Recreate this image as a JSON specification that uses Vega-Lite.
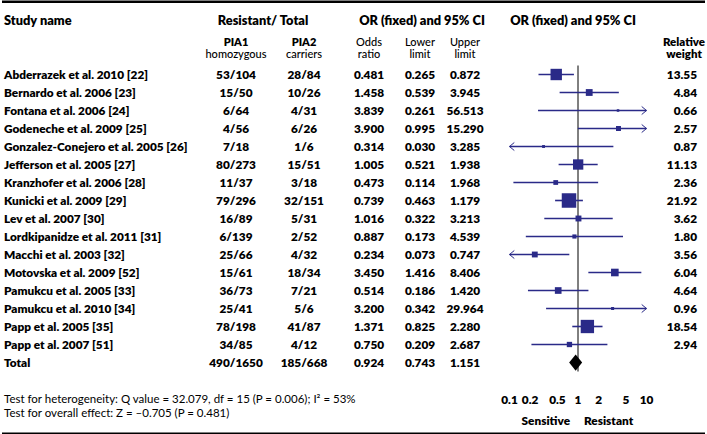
{
  "$schema": "https://vega.github.io/schema/vega-lite/v6.json",
  "width": 707,
  "height": 434,
  "autosize": {"type": "fit", "contains": "padding"},
  "padding": 0,
  "background": "white",
  "config": {
    "view": {"stroke": null},
    "font": "Lato",
    "text": {"font": "Lato", "fontSize": 11.8, "fontWeight": 800, "color": "#000"}
  },
  "datasets": {
    "studies": [
      {"study": "Abderrazek et al. 2010 [22]", "pia1": "53/104", "pia2": "28/84", "or": 0.481, "lo": 0.265, "hi": 0.872, "w": 13.55},
      {"study": "Bernardo et al. 2006 [23]", "pia1": "15/50", "pia2": "10/26", "or": 1.458, "lo": 0.539, "hi": 3.945, "w": 4.84},
      {"study": "Fontana et al. 2006 [24]", "pia1": "6/64", "pia2": "4/31", "or": 3.839, "lo": 0.261, "hi": 56.513, "w": 0.66},
      {"study": "Godeneche et al. 2009 [25]", "pia1": "4/56", "pia2": "6/26", "or": 3.9, "lo": 0.995, "hi": 15.29, "w": 2.57},
      {"study": "Gonzalez-Conejero et al. 2005 [26]", "pia1": "7/18", "pia2": "1/6", "or": 0.314, "lo": 0.03, "hi": 3.285, "w": 0.87},
      {"study": "Jefferson et al. 2005 [27]", "pia1": "80/273", "pia2": "15/51", "or": 1.005, "lo": 0.521, "hi": 1.938, "w": 11.13},
      {"study": "Kranzhofer et al. 2006 [28]", "pia1": "11/37", "pia2": "3/18", "or": 0.473, "lo": 0.114, "hi": 1.968, "w": 2.36},
      {"study": "Kunicki et al. 2009 [29]", "pia1": "79/296", "pia2": "32/151", "or": 0.739, "lo": 0.463, "hi": 1.179, "w": 21.92},
      {"study": "Lev et al. 2007 [30]", "pia1": "16/89", "pia2": "5/31", "or": 1.016, "lo": 0.322, "hi": 3.213, "w": 3.62},
      {"study": "Lordkipanidze et al. 2011 [31]", "pia1": "6/139", "pia2": "2/52", "or": 0.887, "lo": 0.173, "hi": 4.539, "w": 1.8},
      {"study": "Macchi et al. 2003  [32]", "pia1": "25/66", "pia2": "4/32", "or": 0.234, "lo": 0.073, "hi": 0.747, "w": 3.56},
      {"study": "Motovska et al. 2009 [52]", "pia1": "15/61", "pia2": "18/34", "or": 3.45, "lo": 1.416, "hi": 8.406, "w": 6.04},
      {"study": "Pamukcu et al. 2005 [33]", "pia1": "36/73", "pia2": "7/21", "or": 0.514, "lo": 0.186, "hi": 1.42, "w": 4.64},
      {"study": "Pamukcu et al. 2010 [34]", "pia1": "25/41", "pia2": "5/6", "or": 3.2, "lo": 0.342, "hi": 29.964, "w": 0.96},
      {"study": "Papp et al. 2005  [35]", "pia1": "78/198", "pia2": "41/87", "or": 1.371, "lo": 0.825, "hi": 2.28, "w": 18.54},
      {"study": "Papp et al. 2007 [51]", "pia1": "34/85", "pia2": "4/12", "or": 0.75, "lo": 0.209, "hi": 2.687, "w": 2.94},
      {"study": "Total", "pia1": "490/1650", "pia2": "185/668", "or": 0.924, "lo": 0.743, "hi": 1.151, "w": null}
    ],
    "labels": [
      {"study": "hdr", "id": "h_name", "label": "Study name"},
      {"study": "hdr", "id": "h_rt", "label": "Resistant/ Total"},
      {"study": "hdr", "id": "h_or1", "label": "OR (fixed) and 95% CI"},
      {"study": "hdr", "id": "h_or2", "label": "OR (fixed) and 95% CI"},
      {"study": "sub1", "id": "pia1_a", "label": "PIA1"},
      {"study": "sub2", "id": "pia1_b", "label": "homozygous"},
      {"study": "sub1", "id": "pia2_a", "label": "PIA2"},
      {"study": "sub2", "id": "pia2_b", "label": "carriers"},
      {"study": "sub1", "id": "or_a", "label": "Odds"},
      {"study": "sub2", "id": "or_b", "label": "ratio"},
      {"study": "sub1", "id": "lo_a", "label": "Lower"},
      {"study": "sub2", "id": "lo_b", "label": "limit"},
      {"study": "sub1", "id": "hi_a", "label": "Upper"},
      {"study": "sub2", "id": "hi_b", "label": "limit"},
      {"study": "sub1", "id": "w_a", "label": "Relative"},
      {"study": "sub2", "id": "w_b", "label": "weight"},
      {"study": "foot1", "id": "f1", "label": "Test for heterogeneity: Q value = 32.079, df = 15 (P = 0.006); I² = 53%"},
      {"study": "foot2", "id": "f2", "label": "Test for overall effect: Z = –0.705 (P = 0.481)"},
      {"study": "foot2", "id": "sens", "label": "Sensitive"},
      {"study": "foot2", "id": "res", "label": "Resistant"}
    ],
    "ticks": [
      {"study": "foot1", "t": 0.1, "lab": "0.1"}, {"study": "foot1", "t": 0.2, "lab": "0.2"}, {"study": "foot1", "t": 0.5, "lab": "0.5"},
      {"study": "foot1", "t": 1, "lab": "1"}, {"study": "foot1", "t": 2, "lab": "2"}, {"study": "foot1", "t": 5, "lab": "5"}, {"study": "foot1", "t": 10, "lab": "10"}
    ],
    "frame": [{"study": "top"}, {"study": "bottom"}]
  },
  "encoding": {
    "y": {"field": "study", "type": "nominal", "axis": null,
          "scale": {"type": "point", "padding": 0, "range": [1.5, 433.5],
                    "domain": ["top","hdr","sub1","sub2","Abderrazek et al. 2010 [22]","Bernardo et al. 2006 [23]","Fontana et al. 2006 [24]","Godeneche et al. 2009 [25]","Gonzalez-Conejero et al. 2005 [26]","Jefferson et al. 2005 [27]","Kranzhofer et al. 2006 [28]","Kunicki et al. 2009 [29]","Lev et al. 2007 [30]","Lordkipanidze et al. 2011 [31]","Macchi et al. 2003  [32]","Motovska et al. 2009 [52]","Pamukcu et al. 2005 [33]","Pamukcu et al. 2010 [34]","Papp et al. 2005  [35]","Papp et al. 2007 [51]","Total","gap","foot1","foot2","bottom"]}}
  },
  "resolve": {"scale": {"x": "independent"}},
  "layer": [
    {"data": {"name": "frame"},
     "mark": {"type": "rule", "strokeWidth": 2.5, "color": "#000", "yOffset": -0.75},
     "encoding": {}},

    {"data": {"name": "studies"},
     "mark": {"type": "text", "align": "left"},
     "encoding": {"x": {"datum": "name", "type": "nominal", "axis": null, "scale": {"type": "point", "padding": 0, "range": [2, 2]}},
                  "text": {"field": "study"}}},
    {"data": {"name": "labels"}, "transform": [{"filter": "datum.id === 'h_name'"}],
     "mark": {"type": "text", "align": "left", "fontSize": 12.8},
     "encoding": {"x": {"datum": "name", "type": "nominal", "axis": null, "scale": {"type": "point", "padding": 0, "range": [2, 2]}},
                  "text": {"field": "label"}}},
    {"data": {"name": "labels"}, "transform": [{"filter": "datum.id === 'f1'"}],
     "mark": {"type": "text", "align": "left", "fontSize": 11.5, "fontWeight": "normal", "dy": 1},
     "encoding": {"x": {"datum": "name", "type": "nominal", "axis": null, "scale": {"type": "point", "padding": 0, "range": [2, 2]}},
                  "text": {"field": "label"}}},
    {"data": {"name": "labels"}, "transform": [{"filter": "datum.id === 'f2'"}],
     "mark": {"type": "text", "align": "left", "fontSize": 11.5, "fontWeight": "normal", "dy": -3},
     "encoding": {"x": {"datum": "name", "type": "nominal", "axis": null, "scale": {"type": "point", "padding": 0, "range": [2, 2]}},
                  "text": {"field": "label"}}},

    {"data": {"name": "studies"},
     "mark": {"type": "text"},
     "encoding": {"x": {"datum": "pia1", "type": "nominal", "axis": null, "scale": {"type": "point", "padding": 0, "range": [234, 234]}},
                  "text": {"field": "pia1"}}},
    {"data": {"name": "labels"}, "transform": [{"filter": "datum.id === 'pia1_a'"}],
     "mark": {"type": "text", "dy": 4, "fontSize": 11},
     "encoding": {"x": {"datum": "pia1", "type": "nominal", "axis": null, "scale": {"type": "point", "padding": 0, "range": [234, 234]}},
                  "text": {"field": "label"}}},
    {"data": {"name": "labels"}, "transform": [{"filter": "datum.id === 'pia1_b'"}],
     "mark": {"type": "text", "fontWeight": 500, "fontSize": 11, "dy": -1.5},
     "encoding": {"x": {"datum": "pia1", "type": "nominal", "axis": null, "scale": {"type": "point", "padding": 0, "range": [234, 234]}},
                  "text": {"field": "label"}}},

    {"data": {"name": "studies"},
     "mark": {"type": "text"},
     "encoding": {"x": {"datum": "pia2", "type": "nominal", "axis": null, "scale": {"type": "point", "padding": 0, "range": [302, 302]}},
                  "text": {"field": "pia2"}}},
    {"data": {"name": "labels"}, "transform": [{"filter": "datum.id === 'pia2_a'"}],
     "mark": {"type": "text", "dy": 4, "fontSize": 11},
     "encoding": {"x": {"datum": "pia2", "type": "nominal", "axis": null, "scale": {"type": "point", "padding": 0, "range": [302, 302]}},
                  "text": {"field": "label"}}},
    {"data": {"name": "labels"}, "transform": [{"filter": "datum.id === 'pia2_b'"}],
     "mark": {"type": "text", "fontWeight": 500, "fontSize": 11, "dy": -1.5},
     "encoding": {"x": {"datum": "pia2", "type": "nominal", "axis": null, "scale": {"type": "point", "padding": 0, "range": [302, 302]}},
                  "text": {"field": "label"}}},

    {"data": {"name": "labels"}, "transform": [{"filter": "datum.id === 'h_rt'"}],
     "mark": {"type": "text", "fontSize": 12.8},
     "encoding": {"x": {"datum": "rt", "type": "nominal", "axis": null, "scale": {"type": "point", "padding": 0, "range": [261, 261]}},
                  "text": {"field": "label"}}},

    {"data": {"name": "studies"},
     "mark": {"type": "text"},
     "encoding": {"x": {"datum": "or", "type": "nominal", "axis": null, "scale": {"type": "point", "padding": 0, "range": [367, 367]}},
                  "text": {"field": "or", "type": "quantitative", "format": ".3f"}}},
    {"data": {"name": "labels"}, "transform": [{"filter": "datum.id === 'or_a'"}],
     "mark": {"type": "text", "dy": 4, "fontSize": 11, "fontWeight": 500},
     "encoding": {"x": {"datum": "or", "type": "nominal", "axis": null, "scale": {"type": "point", "padding": 0, "range": [367, 367]}},
                  "text": {"field": "label"}}},
    {"data": {"name": "labels"}, "transform": [{"filter": "datum.id === 'or_b'"}],
     "mark": {"type": "text", "fontWeight": 500, "fontSize": 11, "dy": -1.5},
     "encoding": {"x": {"datum": "or", "type": "nominal", "axis": null, "scale": {"type": "point", "padding": 0, "range": [367, 367]}},
                  "text": {"field": "label"}}},

    {"data": {"name": "studies"},
     "mark": {"type": "text"},
     "encoding": {"x": {"datum": "lo", "type": "nominal", "axis": null, "scale": {"type": "point", "padding": 0, "range": [418, 418]}},
                  "text": {"field": "lo", "type": "quantitative", "format": ".3f"}}},
    {"data": {"name": "labels"}, "transform": [{"filter": "datum.id === 'lo_a'"}],
     "mark": {"type": "text", "dy": 4, "fontSize": 11, "fontWeight": 500},
     "encoding": {"x": {"datum": "lo", "type": "nominal", "axis": null, "scale": {"type": "point", "padding": 0, "range": [418, 418]}},
                  "text": {"field": "label"}}},
    {"data": {"name": "labels"}, "transform": [{"filter": "datum.id === 'lo_b'"}],
     "mark": {"type": "text", "fontWeight": 500, "fontSize": 11, "dy": -1.5},
     "encoding": {"x": {"datum": "lo", "type": "nominal", "axis": null, "scale": {"type": "point", "padding": 0, "range": [418, 418]}},
                  "text": {"field": "label"}}},
    {"data": {"name": "labels"}, "transform": [{"filter": "datum.id === 'h_or1'"}],
     "mark": {"type": "text", "fontSize": 12.8, "dx": 2},
     "encoding": {"x": {"datum": "lo", "type": "nominal", "axis": null, "scale": {"type": "point", "padding": 0, "range": [418, 418]}},
                  "text": {"field": "label"}}},

    {"data": {"name": "studies"},
     "mark": {"type": "text"},
     "encoding": {"x": {"datum": "hi", "type": "nominal", "axis": null, "scale": {"type": "point", "padding": 0, "range": [463, 463]}},
                  "text": {"field": "hi", "type": "quantitative", "format": ".3f"}}},
    {"data": {"name": "labels"}, "transform": [{"filter": "datum.id === 'hi_a'"}],
     "mark": {"type": "text", "dy": 4, "fontSize": 11, "fontWeight": 500},
     "encoding": {"x": {"datum": "hi", "type": "nominal", "axis": null, "scale": {"type": "point", "padding": 0, "range": [463, 463]}},
                  "text": {"field": "label"}}},
    {"data": {"name": "labels"}, "transform": [{"filter": "datum.id === 'hi_b'"}],
     "mark": {"type": "text", "fontWeight": 500, "fontSize": 11, "dy": -1.5},
     "encoding": {"x": {"datum": "hi", "type": "nominal", "axis": null, "scale": {"type": "point", "padding": 0, "range": [463, 463]}},
                  "text": {"field": "label"}}},

    {"data": {"name": "studies"}, "transform": [{"filter": "datum.w != null"}],
     "mark": {"type": "text", "align": "right"},
     "encoding": {"x": {"datum": "w", "type": "nominal", "axis": null, "scale": {"type": "point", "padding": 0, "range": [695, 695]}},
                  "text": {"field": "w", "type": "quantitative", "format": ".2f"}}},
    {"data": {"name": "labels"}, "transform": [{"filter": "datum.id === 'w_a'"}],
     "mark": {"type": "text", "dy": 4, "dx": -13, "fontSize": 11.5},
     "encoding": {"x": {"datum": "w", "type": "nominal", "axis": null, "scale": {"type": "point", "padding": 0, "range": [695, 695]}},
                  "text": {"field": "label"}}},
    {"data": {"name": "labels"}, "transform": [{"filter": "datum.id === 'w_b'"}],
     "mark": {"type": "text", "dx": -13, "fontSize": 11.5, "dy": -1.5},
     "encoding": {"x": {"datum": "w", "type": "nominal", "axis": null, "scale": {"type": "point", "padding": 0, "range": [695, 695]}},
                  "text": {"field": "label"}}},

    {"data": {"name": "studies"}, "transform": [{"filter": "datum.study === 'Total'"}],
     "mark": {"type": "rule", "color": "#000", "strokeWidth": 1, "yOffset": 9, "y2Offset": -9},
     "encoding": {
       "x": {"datum": 1, "type": "quantitative", "axis": null, "scale": {"type": "log", "domain": [0.1, 10], "range": [507.5, 644.5], "clamp": true}},
       "y2": {"datum": "Abderrazek et al. 2010 [22]"}}},
    {"data": {"name": "studies"}, "transform": [{"filter": "datum.study !== 'Total'"}],
     "mark": {"type": "rule", "color": "#2a2a88", "strokeWidth": 1.6},
     "encoding": {
       "x": {"field": "lo", "type": "quantitative", "axis": null, "scale": {"type": "log", "domain": [0.1, 10], "range": [507.5, 644.5], "clamp": true}},
       "x2": {"field": "hi"}}},
    {"data": {"name": "studies"}, "transform": [{"filter": "datum.study !== 'Total'"}],
     "mark": {"type": "point", "shape": "square", "filled": true, "opacity": 1, "color": "#2a2a88"},
     "encoding": {
       "x": {"field": "or", "type": "quantitative", "axis": null, "scale": {"type": "log", "domain": [0.1, 10], "range": [507.5, 644.5], "clamp": true}},
       "size": {"field": "w", "type": "quantitative", "legend": null, "scale": {"domain": [0, 22], "range": [0, 211]}}}},
    {"data": {"name": "studies"}, "transform": [{"filter": "datum.hi > 10"}],
     "mark": {"type": "point", "shape": "M-1.2,-1L0,0L-1.2,1", "filled": false, "opacity": 1, "color": "#2a2a88", "strokeWidth": 1, "size": 64},
     "encoding": {"x": {"field": "hi", "type": "quantitative", "axis": null, "scale": {"type": "log", "domain": [0.1, 10], "range": [507.5, 644.5], "clamp": true}}}},
    {"data": {"name": "studies"}, "transform": [{"filter": "datum.lo < 0.1"}],
     "mark": {"type": "point", "shape": "M1.2,-1L0,0L1.2,1", "filled": false, "opacity": 1, "color": "#2a2a88", "strokeWidth": 1, "size": 64},
     "encoding": {"x": {"field": "lo", "type": "quantitative", "axis": null, "scale": {"type": "log", "domain": [0.1, 10], "range": [507.5, 644.5], "clamp": true}}}},
    {"data": {"name": "studies"}, "transform": [{"filter": "datum.study === 'Total'"}],
     "mark": {"type": "point", "shape": "M0,-1.25L1,0L0,1.25L-1,0Z", "filled": true, "opacity": 1, "color": "#000", "size": 169},
     "encoding": {"x": {"field": "or", "type": "quantitative", "axis": null, "scale": {"type": "log", "domain": [0.1, 10], "range": [507.5, 644.5], "clamp": true}}}},
    {"data": {"name": "ticks"},
     "mark": {"type": "text", "dy": 1},
     "encoding": {"x": {"field": "t", "type": "quantitative", "axis": null, "scale": {"type": "log", "domain": [0.1, 10], "range": [507.5, 644.5], "clamp": true}},
                  "text": {"field": "lab"}}},
    {"data": {"name": "labels"}, "transform": [{"filter": "datum.id === 'sens'"}],
     "mark": {"type": "text", "align": "right", "dx": -8, "dy": 4},
     "encoding": {"x": {"datum": 1, "type": "quantitative", "axis": null, "scale": {"type": "log", "domain": [0.1, 10], "range": [507.5, 644.5], "clamp": true}},
                  "text": {"field": "label"}}},
    {"data": {"name": "labels"}, "transform": [{"filter": "datum.id === 'res'"}],
     "mark": {"type": "text", "align": "left", "dx": 6, "dy": 4},
     "encoding": {"x": {"datum": 1, "type": "quantitative", "axis": null, "scale": {"type": "log", "domain": [0.1, 10], "range": [507.5, 644.5], "clamp": true}},
                  "text": {"field": "label"}}},
    {"data": {"name": "labels"}, "transform": [{"filter": "datum.id === 'h_or2'"}],
     "mark": {"type": "text", "fontSize": 12.8, "dx": -5},
     "encoding": {"x": {"datum": 1, "type": "quantitative", "axis": null, "scale": {"type": "log", "domain": [0.1, 10], "range": [507.5, 644.5], "clamp": true}},
                  "text": {"field": "label"}}}
  ]
}
